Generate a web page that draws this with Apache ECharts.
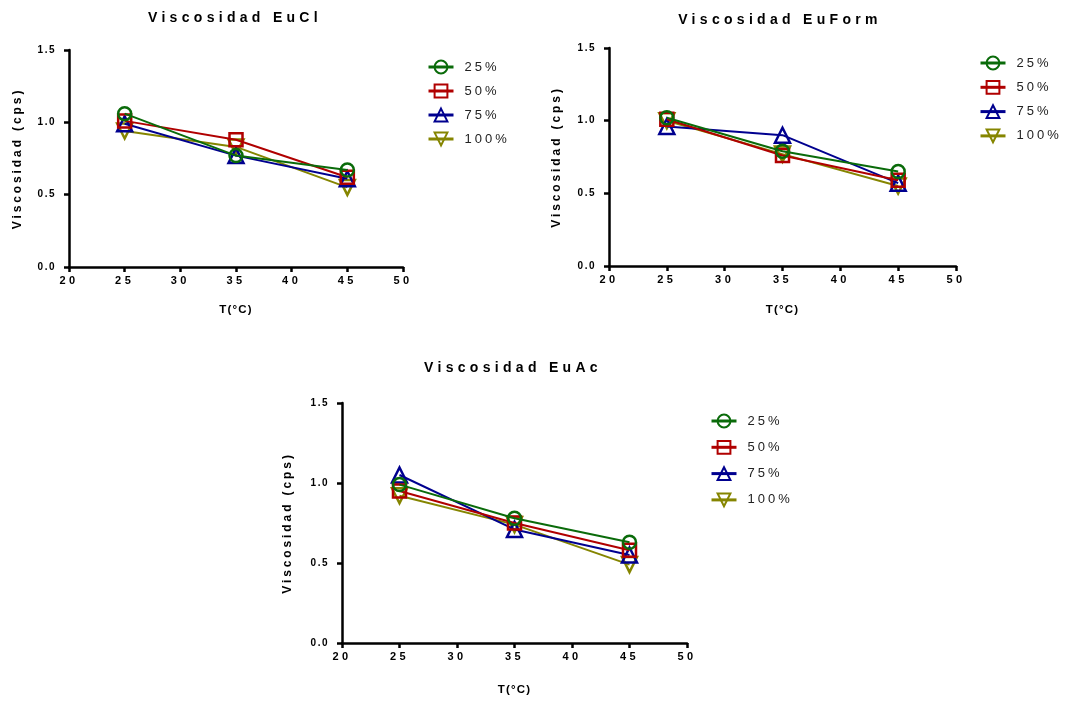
<!DOCTYPE html>
<html>
<head>
<meta charset="utf-8">
<script src="https://cdn.jsdelivr.net/npm/echarts@6/dist/echarts.min.js"></script>
<style>
html,body{margin:0;padding:0;background:#fff;}
#c{width:1068px;height:703px;}
</style>
</head>
<body>
<div id="c"></div>
<script>
// ---- data ----
const temps = [25, 35, 45];
const seriesNames = ['25%', '50%', '75%', '100%'];
const xTicks = [20, 25, 30, 35, 40, 45, 50];
const yTicks = [0.0, 0.5, 1.0, 1.5];
const titles = ['Viscosidad EuCl', 'Viscosidad EuForm', 'Viscosidad EuAc'];
const xName = 'T(°C)';
const yName = 'Viscosidad (cps)';

const euCl_25 = [1.06, 0.77, 0.67];
const euCl_50 = [1.01, 0.88, 0.62];
const euCl_75 = [0.99, 0.77, 0.61];
const euCl_100 = [0.94, 0.83, 0.55];

const euForm_25 = [1.02, 0.79, 0.65];
const euForm_50 = [1.01, 0.76, 0.59];
const euForm_75 = [0.96, 0.90, 0.57];
const euForm_100 = [1.00, 0.77, 0.55];

const euAc_25 = [0.99, 0.78, 0.63];
const euAc_50 = [0.95, 0.75, 0.58];
const euAc_75 = [1.05, 0.71, 0.55];
const euAc_100 = [0.92, 0.74, 0.49];

const plotsData = [
  [euCl_25, euCl_50, euCl_75, euCl_100],
  [euForm_25, euForm_50, euForm_75, euForm_100],
  [euAc_25, euAc_50, euAc_75, euAc_100]
];

// ---- wide letter spacing like the original (canvas text) ----
(function () {
  const P = CanvasRenderingContext2D.prototype;
  if (!('letterSpacing' in P)) return;
  const map = { 10: 1.5, 11: 3.5, 12: 2.9, 11.5: 1.2, 13: 3, 14: 4.3 };
  function apply(ctx) {
    const m = /([\d.]+)px/.exec(ctx.font);
    const s = m ? (map[parseFloat(m[1])] || 0) : 0;
    ctx.letterSpacing = s + 'px';
  }
  ['fillText', 'strokeText', 'measureText'].forEach(function (fn) {
    const o = P[fn];
    P[fn] = function () { apply(this); return o.apply(this, arguments); };
  });
})();

// ---- styles / layout ----
const FONT = '"Liberation Sans", Arial, sans-serif';
const colors = ['#0a6b0a', '#b00000', '#00008f', '#858500'];
const symbols = ['circle', 'rect', 'triangle', 'triangle'];
const rotations = [0, 0, 0, 180];
const sizes = [13, 13, 15, 15];

const grids = [
  { left: 69, top: 50, width: 334, height: 217 },
  { left: 609, top: 48, width: 347, height: 218 },
  { left: 342, top: 403, width: 345, height: 240 }
];
const titlePos = [[235, 18], [780, 20], [513, 368]];
const xNameGaps = [36, 37, 40];
const yNameGaps = [44, 45, 47];
const legends = [
  { left: 427, top: 59, itemGap: 8 },
  { left: 979, top: 55, itemGap: 8.3 },
  { left: 710, top: 413, itemGap: 10.3 }
];

const axisLine = { show: true, lineStyle: { color: '#000', width: 2.5 } };
const axisTick = { show: true, inside: false, length: 5, lineStyle: { color: '#000', width: 2.5 } };

const option = {
  animation: false,
  backgroundColor: '#fff',
  grid: grids.map(g => Object.assign({ containLabel: false }, g)),
  xAxis: grids.map((g, i) => ({
    type: 'value', gridIndex: i,
    min: xTicks[0], max: xTicks[xTicks.length - 1], interval: 5,
    axisLine: axisLine, axisTick: axisTick,
    splitLine: { show: false },
    axisLabel: { fontFamily: FONT, fontWeight: 'bold', fontSize: 11, color: '#000', margin: 7 },
    name: xName, nameLocation: 'middle', nameGap: xNameGaps[i],
    nameTextStyle: { fontFamily: FONT, fontWeight: 'bold', fontSize: 11.5, color: '#000' }
  })),
  yAxis: grids.map((g, i) => ({
    type: 'value', gridIndex: i,
    min: yTicks[0], max: yTicks[yTicks.length - 1], interval: 0.5,
    axisLine: axisLine, axisTick: axisTick,
    splitLine: { show: false },
    axisLabel: { fontFamily: FONT, fontWeight: 'bold', fontSize: 10, color: '#000', margin: 13,
      formatter: v => v.toFixed(1) },
    name: yName, nameLocation: 'middle', nameGap: yNameGaps[i],
    nameTextStyle: { fontFamily: FONT, fontWeight: 'bold', fontSize: 12, color: '#000' }
  })),
  legend: legends.map(l => ({
    orient: 'vertical', left: l.left, top: l.top, itemGap: l.itemGap,
    padding: 0,
    itemWidth: 25, itemHeight: 16,
    data: seriesNames,
    selectedMode: false,
    lineStyle: { width: 3 },
    textStyle: { fontFamily: FONT, fontSize: 13, color: '#222', padding: [0, 0, 0, 6] }
  })),
  graphic: titles.map((t, i) => ({
    type: 'text', x: titlePos[i][0], y: titlePos[i][1],
    style: { text: t, fontFamily: FONT, fontWeight: 'bold', fontSize: 14, fill: '#000',
      textAlign: 'center', textVerticalAlign: 'middle' }
  })),
  series: []
};

plotsData.forEach((arrs, p) => {
  // draw 100% first so 25% ends on top
  for (let k = seriesNames.length - 1; k >= 0; k--) {
    option.series.push({
      type: 'line',
      name: seriesNames[k],
      xAxisIndex: p, yAxisIndex: p,
      data: temps.map((t, j) => [t, arrs[k][j]]),
      symbol: symbols[k],
      symbolRotate: rotations[k],
      symbolSize: sizes[k],
      showAllSymbol: true,
      lineStyle: { color: colors[k], width: 2 },
      itemStyle: { color: 'rgba(255,255,255,0)', borderColor: colors[k], borderWidth: 2.5 },
      emphasis: { disabled: true },
      z: 2 + (seriesNames.length - k)
    });
  }
});

const chart = echarts.init(document.getElementById('c'), null, { renderer: 'canvas' });
chart.setOption(option);
</script>
</body>
</html>
